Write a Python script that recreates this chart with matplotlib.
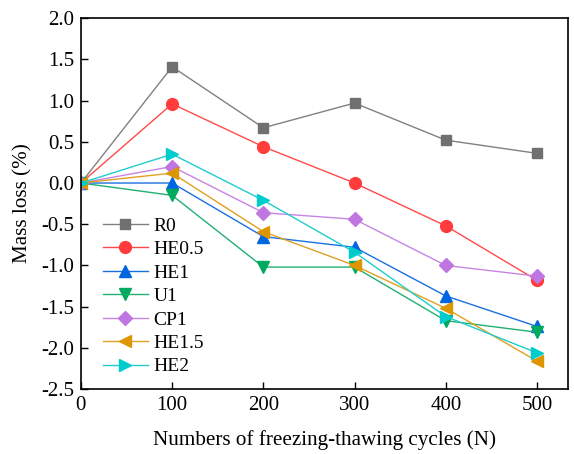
import matplotlib
matplotlib.use("Agg")
from matplotlib import pyplot as plt

plt.rcParams['font.family'] = ['Liberation Serif', 'DejaVu Serif']
plt.rcParams['mathtext.fontset'] = 'stix'

cycles = [0, 100, 200, 300, 400, 500]

r0 = [0, 1.41, 0.67, 0.97, 0.52, 0.36]
he05 = [0, 0.96, 0.44, 0.0, -0.52, -1.18]
he1 = [0, 0.0, -0.65, -0.78, -1.37, -1.74]
u1 = [0, -0.15, -1.02, -1.02, -1.67, -1.81]
cp1 = [0, 0.20, -0.36, -0.44, -1.00, -1.13]
he15 = [0, 0.12, -0.59, -1.00, -1.52, -2.16]
he2 = [0, 0.35, -0.21, -0.84, -1.62, -2.06]

series = [
    ("R0", r0, "s", "#707070", "#808080"),
    ("HE0.5", he05, "o", "#ff3b3b", "#ff4a4a"),
    ("HE1", he1, "^", "#0066e0", "#1a70e0"),
    ("U1", u1, "v", "#00aa60", "#20b070"),
    ("CP1", cp1, "D", "#c076e0", "#c884e4"),
    ("HE1.5", he15, "<", "#dd9500", "#e0a020"),
    ("HE2", he2, ">", "#00cccc", "#20cccc"),
]

fig = plt.figure(figsize=(5.74, 4.54), dpi=100)
ax = fig.add_axes([0.141, 0.143, 0.8485, 0.817])

for name, vals, mk, mc, lc in series:
    ms = 7 if mk == "D" else 8.5
    if mk == "s":
        ms = 7.5
    ax.plot(cycles, vals, "-", color=lc, lw=1.0, marker=mk, markersize=ms,
            markerfacecolor=mc, markeredgecolor=mc, label=name)

ax.set_xlim(0, 534)
ax.set_ylim(-2.5, 2.0)
ax.set_xticks(cycles)
ax.set_yticks([-2.5, -2.0, -1.5, -1.0, -0.5, 0.0, 0.5, 1.0, 1.5, 2.0])
ax.set_yticklabels(["-2.5", "-2.0", "-1.5", "-1.0", "-0.5", "0.0", "0.5", "1.0", "1.5", "2.0"])
ax.tick_params(direction="in", labelsize=15, length=5, width=1.0, pad=5)
for s in ax.spines.values():
    s.set_linewidth(1.2)

ax.set_xlabel("Numbers of freezing-thawing cycles (N)", fontsize=15.2, labelpad=11)
ax.set_ylabel("Mass loss (%)", fontsize=15.2, labelpad=6)

ax.legend(loc="center left", bbox_to_anchor=(0.045, 0.25), frameon=False,
          fontsize=14, borderpad=0, borderaxespad=0, handlelength=2.3,
          handletextpad=0.3, labelspacing=0.3)

fig.savefig("out.png", dpi=100)
